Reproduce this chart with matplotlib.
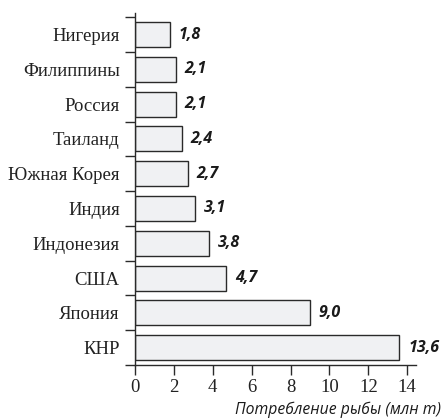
import matplotlib
matplotlib.use("Agg")
import matplotlib.pyplot as plt

countries = ["КНР", "Япония", "США", "Индонезия", "Индия", "Южная Корея",
             "Таиланд", "Россия", "Филиппины", "Нигерия"]
values = [13.6, 9.0, 4.7, 3.8, 3.1, 2.7, 2.4, 2.1, 2.1, 1.8]
value_labels = ["13,6", "9,0", "4,7", "3,8", "3,1", "2,7", "2,4", "2,1", "2,1", "1,8"]
xticks = [0, 2, 4, 6, 8, 10, 12, 14]

fig = plt.figure(figsize=(4.43, 4.18), dpi=100)
ax = fig.add_axes([135/443, 1-365/418, (416-135)/443, (365-13)/418])

ypos = list(range(len(countries)))
ax.barh(ypos, values, height=0.72, color="#f0f1f3", edgecolor="#2a2a2a", linewidth=1.0)

for y, v, lab in zip(ypos, values, value_labels):
    ax.text(v + 0.45, y, lab, va="center", ha="left", fontsize=11.5,
            fontfamily="Open Sans", fontweight="bold", fontstyle="italic", color="#1a1a1a")

ax.set_xlim(0, 14.45)
ax.set_ylim(-0.5, 9.62)
ax.set_xticks(xticks)
ax.set_xticklabels([str(t) for t in xticks], fontfamily="Liberation Serif", fontsize=13.5, color="#222222")
ax.set_yticks(ypos)
ax.set_yticklabels(countries, fontfamily="Liberation Serif", fontsize=13.5, color="#222222")
ax.tick_params(axis="y", which="major", length=0, pad=11)
ax.set_yticks([y + 0.5 for y in ypos] + [-0.5], minor=True)
ax.tick_params(axis="y", which="minor", length=7, width=1, direction="out", color="#2a2a2a")
ax.tick_params(axis="x", length=7, width=1, direction="out", color="#2a2a2a", pad=3)

for s in ["top", "right"]:
    ax.spines[s].set_visible(False)
for s in ["left", "bottom"]:
    ax.spines[s].set_color("#2a2a2a")
    ax.spines[s].set_linewidth(1)

fig.text(441/443, 1-410/418, "Потребление рыбы (млн т)", ha="right", va="center",
         fontfamily="Open Sans", fontstyle="italic", fontsize=11.3, color="#1a1a1a")

fig.savefig("out.png", dpi=100)
